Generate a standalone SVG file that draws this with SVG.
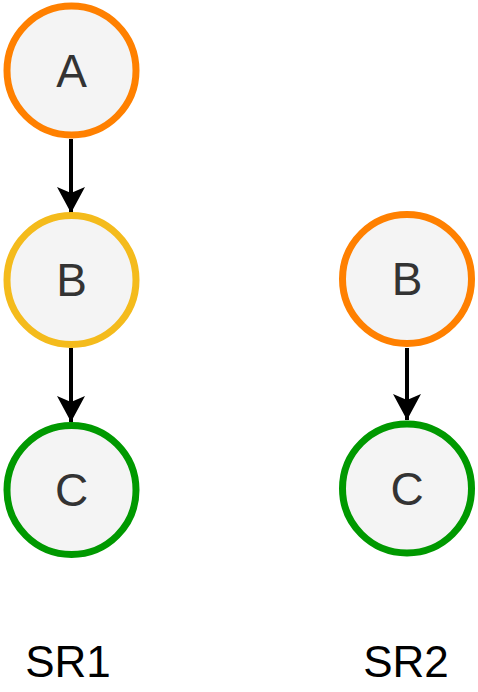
<svg xmlns="http://www.w3.org/2000/svg" width="478" height="692" viewBox="0 0 478 692">
<style>
.n{fill:#f4f4f4;stroke-width:7}
.t{font-family:"Liberation Sans",Arial,sans-serif;font-size:46px;text-anchor:middle;fill:#333}
.e{stroke:#000;stroke-width:4;fill:none}
.lbl{font-family:"Liberation Sans",Arial,sans-serif;font-size:44px;text-anchor:middle;fill:#000}
</style>
<defs>
<marker id="ar" markerUnits="userSpaceOnUse" markerWidth="28" markerHeight="28" viewBox="0 0 28 28" refX="26" refY="14" orient="auto">
<path d="M0,0 L26,14 L0,28 L6,14 Z" fill="#000"/>
</marker>
</defs>
<g id="edges">
<line class="e" x1="71" y1="139" x2="71" y2="213" marker-end="url(#ar)"/>
<line class="e" x1="71" y1="348" x2="71" y2="422" marker-end="url(#ar)"/>
<line class="e" x1="407" y1="348" x2="407" y2="420" marker-end="url(#ar)"/>
</g>
<g id="A"><circle class="n" cx="71.5" cy="70.5" r="64.5" stroke="#ff8000"/><text class="t" x="71.5" y="87">A</text></g>
<g id="B1"><circle class="n" cx="71.5" cy="280" r="64.5" stroke="#f4bb1c"/><text class="t" x="71.5" y="296">B</text></g>
<g id="C1"><circle class="n" cx="71.5" cy="490" r="64.5" stroke="#009900"/><text class="t" x="71.5" y="506" fill="#111">C</text></g>
<g id="B2"><circle class="n" cx="407" cy="279" r="64.5" stroke="#ff8000"/><text class="t" x="407" y="295">B</text></g>
<g id="C2"><circle class="n" cx="407" cy="488.5" r="64.5" stroke="#009900"/><text class="t" x="407" y="505" fill="#111">C</text></g>
<g id="SR1"><text class="lbl" x="68" y="677">SR1</text></g>
<g id="SR2"><text class="lbl" x="406" y="677">SR2</text></g>
</svg>
